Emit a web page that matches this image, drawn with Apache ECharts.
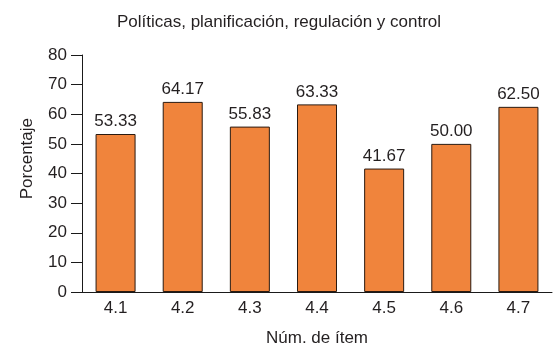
<!DOCTYPE html>
<html>
<head>
<meta charset="utf-8">
<script src="https://cdn.jsdelivr.net/npm/echarts@6/dist/echarts.min.js"></script>
<style>
  html, body { margin: 0; padding: 0; background: #fff; }
  #chart { width: 558px; height: 353px; }
</style>
</head>
<body>
<div id="chart"></div>
<script>
const categories = ['4.1', '4.2', '4.3', '4.4', '4.5', '4.6', '4.7'];
const values = [53.33, 64.17, 55.83, 63.33, 41.67, 50.00, 62.50];
const yTicks = { min: 0, max: 80, interval: 10 };

const textColor = '#231f20';
const fontFamily = '"Liberation Sans", Arial, sans-serif';

const myChart = echarts.init(document.getElementById('chart'));

const options = {
  animation: false,
  title: {
    text: 'Políticas, planificación, regulación y control',
    left: 'center',
    top: 9,
    textStyle: { color: textColor, fontFamily: fontFamily, fontSize: 17, fontWeight: 'normal' },
  },
  grid: { left: 82, right: 6, top: 55, bottom: 61, containLabel: false, outerBoundsMode: 'none' },
  xAxis: {
    type: 'category',
    data: categories,
    name: 'Núm. de ítem',
    nameLocation: 'middle',
    nameGap: 38,
    nameTextStyle: { color: textColor, fontFamily: fontFamily, fontSize: 17 },
    axisLine: { lineStyle: { color: '#1a1a1a', width: 1 } },
    axisTick: { length: 5, lineStyle: { color: '#1a1a1a' } },
    axisLabel: { color: textColor, fontFamily: fontFamily, fontSize: 17, margin: 8 },
  },
  yAxis: {
    type: 'value',
    min: yTicks.min,
    max: yTicks.max,
    interval: yTicks.interval,
    axisLine: { show: true, lineStyle: { color: '#1a1a1a', width: 1 } },
    axisTick: { show: true, length: 11, lineStyle: { color: '#1a1a1a' } },
    axisLabel: { color: textColor, fontFamily: fontFamily, fontSize: 17, margin: 15 },
    splitLine: { show: false },
  },
  graphic: [{
    type: 'text',
    left: 19,
    top: 118,
    rotation: Math.PI / 2,
    style: {
      text: 'Porcentaje',
      fill: textColor,
      font: '17px "Liberation Sans", Arial, sans-serif',
    },
  }],
  series: [{
    type: 'bar',
    data: values,
    barWidth: 40,
    itemStyle: { color: '#f0843c', borderColor: '#2a1a10', borderWidth: 1 },
    label: {
      show: true,
      position: 'top',
      distance: 4,
      color: textColor,
      fontFamily: fontFamily,
      fontSize: 17,
      formatter: (p) => p.value.toFixed(2),
    },
  }],
};

myChart.setOption(options);
</script>
</body>
</html>
